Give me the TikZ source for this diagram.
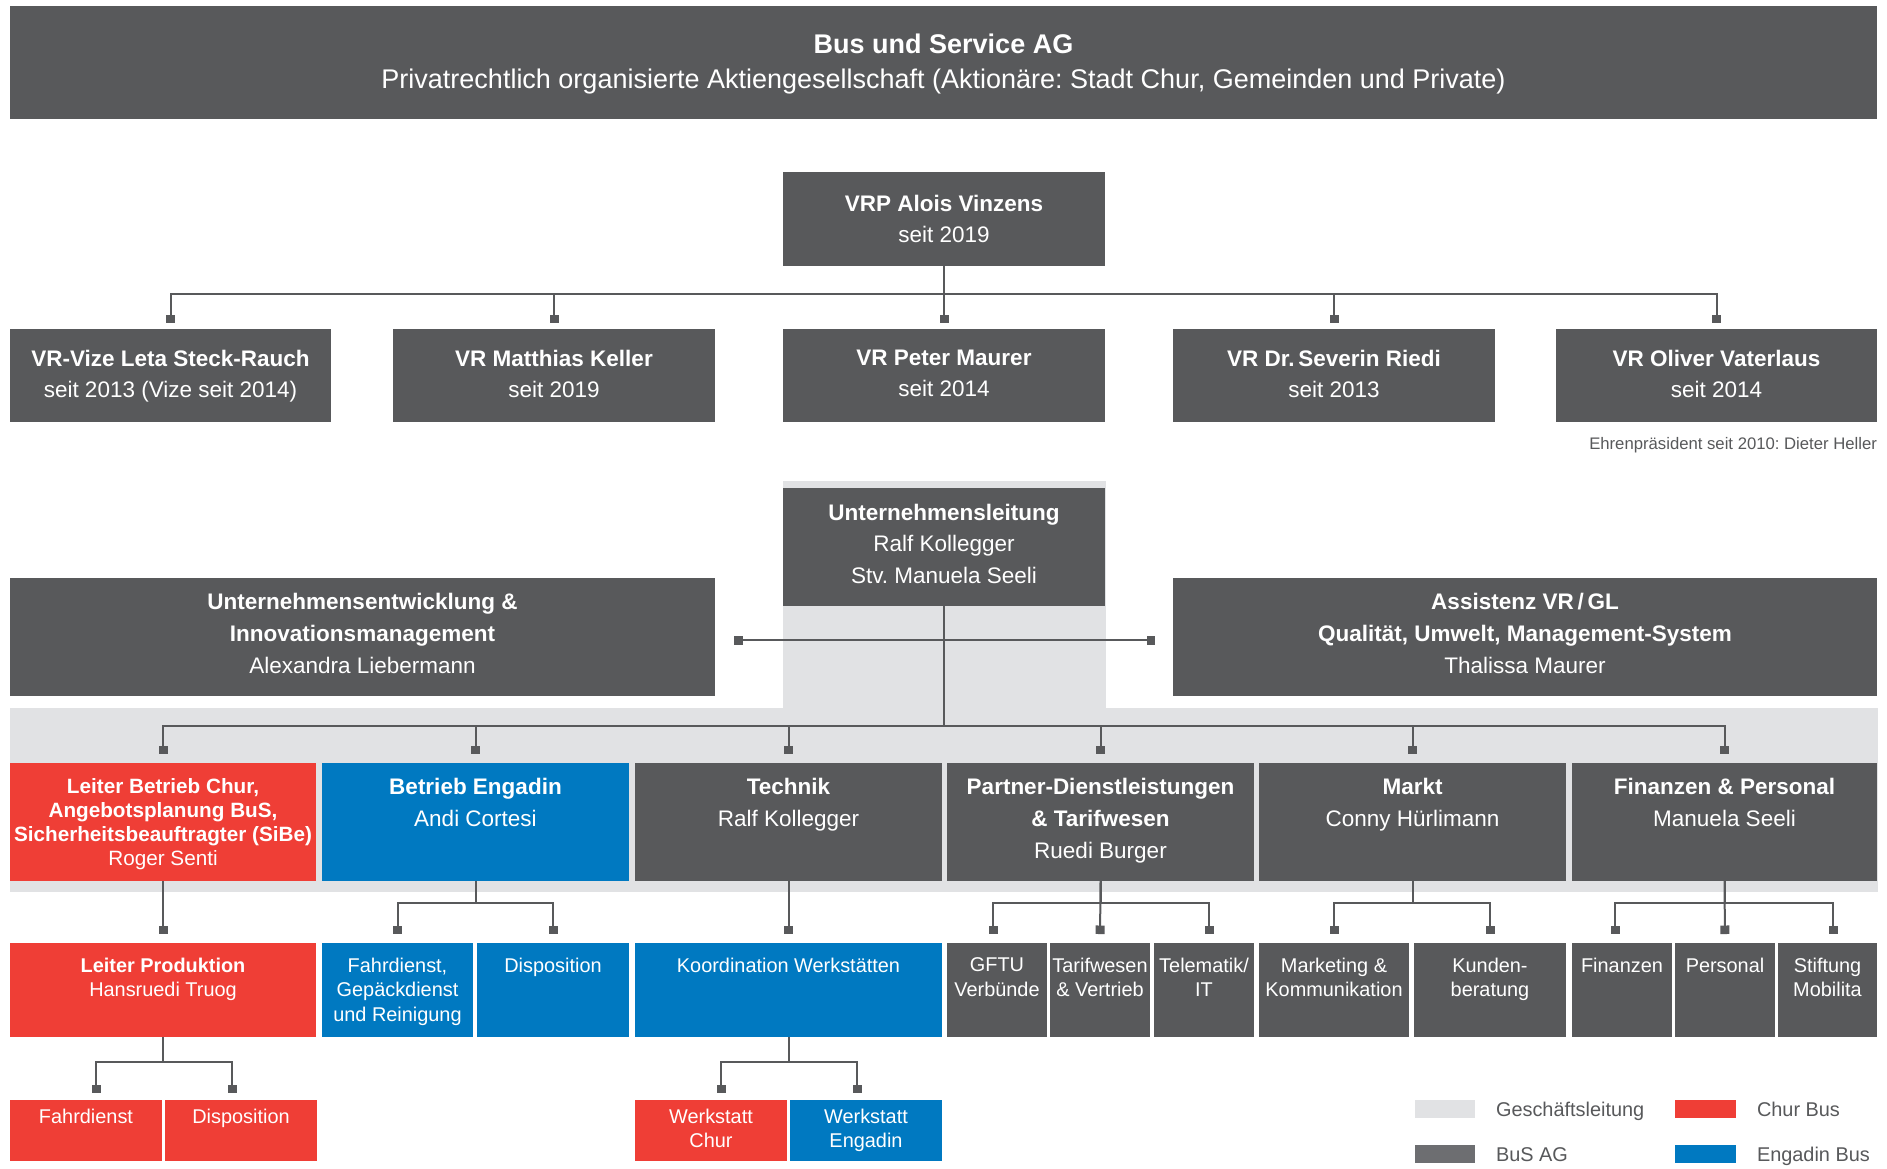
\documentclass[tikz,border=0pt]{standalone}
\usepackage{fontspec}
\setmainfont{Liberation Sans}
\usetikzlibrary{arrows.meta}
\frenchspacing
\definecolor{dkgray}{HTML}{58595B}
\definecolor{ltgray}{HTML}{E1E2E4}
\definecolor{cred}{HTML}{EF3E36}
\definecolor{cblue}{HTML}{0079C1}
\definecolor{legray}{HTML}{6D6E71}
\newcommand\setfs[2]{\fontsize{#1}{#2}\selectfont}
\newcommand\mkbox[6]{\node[boxbase,#6,minimum width={(#4)-(#2)},minimum height={(#5)-(#3)}] (#1) at ({((#2)+(#4))/2},{((#3)+(#5))/2}) {};}
\tikzset{
  boxbase/.style={rectangle,inner sep=0pt,outer sep=0pt,draw=none},
  dk/.style={fill=dkgray},
  rd/.style={fill=cred},
  bl/.style={fill=cblue},
  txt/.style={inner sep=0pt,outer sep=0pt,anchor=north,align=center,text=white,
    execute at begin node={\vphantom{(}}},
  hd/.style={txt,font=\setfs{22.5}{31.5}},
  lvthree/.style={txt,font=\setfs{19.9}{24.3}},
  lvfour/.style={txt,font=\setfs{19.9}{23.4}},
  legtxt/.style={inner sep=0pt,outer sep=0pt,anchor=base west,text=dkgray,font=\setfs{19.9}{24}},
  conn/.style={draw=dkgray,line width=2pt},
  drop/.style={conn,-{Square[length=8.5pt,width=9pt]}},
}
\begin{document}
\begin{tikzpicture}[x=1pt,y=-1pt]
\useasboundingbox (0,0) rectangle (1887,1168);
\fill[white] (0,0) rectangle (1887,1168);
% light grey areas (Geschaeftsleitung)
\fill[ltgray] (783,481) rectangle (1106,708);
\fill[ltgray] (10,708) rectangle (1878,892);
% banner
\mkbox{banner}{10}{6}{1877}{119}{dk}
\node[txt,font=\setfs{27}{35}] (tbanner) at (banner.north |- 0,33.7)
  {{\bfseries Bus und Service AG}\\Privatrechtlich organisierte Aktiengesellschaft (Aktionäre: Stadt Chur, Gemeinden und Private)};
% VRP
\mkbox{vrp}{783}{172}{1105}{266}{dk}
\node[hd] (tvrp) at (vrp.north |- 0,195) {{\bfseries VRP Alois Vinzens}\\seit 2019};
% VR row
\mkbox{vra}{10}{329}{331}{422}{dk}
\mkbox{vrb}{393}{329}{715}{422}{dk}
\mkbox{vrc}{783}{329}{1105}{422}{dk}
\mkbox{vrd}{1173}{329}{1495}{422}{dk}
\mkbox{vre}{1556}{329}{1877}{422}{dk}
\node[hd,font=\setfs{22.5}{31}] (tvra) at (vra.north |- 0,350.5) {{\bfseries VR-Vize Leta Steck-Rauch}\\seit 2013 (Vize seit 2014)};
\node[hd,font=\setfs{22.5}{31}] (tvrb) at (vrb.north |- 0,350.5) {{\bfseries VR Matthias Keller}\\seit 2019};
\node[hd,font=\setfs{22.5}{31}] (tvrc) at (vrc.north |- 0,350.5) {{\bfseries VR Peter Maurer}\\seit 2014};
\node[hd,font=\setfs{22.5}{31}] (tvrd) at (vrd.north |- 0,350.5) {{\bfseries VR Dr.\,Severin Riedi}\\seit 2013};
\node[hd,font=\setfs{22.5}{31}] (tvre) at (vre.north |- 0,350.5) {{\bfseries VR Oliver Vaterlaus}\\seit 2014};
\node[inner sep=0pt,outer sep=0pt,anchor=base east,text=dkgray,font=\setfs{16.7}{20}] (ehren) at (vre.south east |- 0,449) {Ehrenpräsident seit 2010: Dieter Heller};
% Unternehmensleitung + side boxes
\mkbox{ul}{783}{488}{1105}{606}{dk}
\node[hd] (tul) at (ul.north |- 0,504) {{\bfseries Unternehmensleitung}\\Ralf Kollegger\\Stv.\ Manuela Seeli};
\mkbox{sl}{10}{578}{715}{696}{dk}
\mkbox{sr}{1173}{578}{1877}{696}{dk}
\node[hd,font=\setfs{22.5}{32}] (tsl) at (sl.north |- 0,593) {{\bfseries Unternehmensentwicklung \&}\\{\bfseries Innovationsmanagement}\\Alexandra Liebermann};
\node[hd,font=\setfs{22.5}{32}] (tsr) at (sr.north |- 0,593) {{\bfseries Assistenz VR\,/\,GL}\\{\bfseries Qualität, Umwelt, Management-System}\\Thalissa Maurer};
% row 2
\mkbox{lbc}{10}{763}{316}{881}{rd}
\mkbox{be}{322}{763}{629}{881}{bl}
\mkbox{tech}{635}{763}{942}{881}{dk}
\mkbox{pd}{947}{763}{1254}{881}{dk}
\mkbox{markt}{1259}{763}{1566}{881}{dk}
\mkbox{fp}{1572}{763}{1877}{881}{dk}
\node[txt,font=\setfs{20.7}{24}] (tlbc) at (lbc.north |- 0,778.3) {{\bfseries Leiter Betrieb Chur,}\\{\bfseries Angebotsplanung BuS,}\\{\bfseries Sicherheitsbeauftragter (SiBe)}\\Roger Senti};
\node[hd,font=\setfs{22.5}{32}] (tbe) at (be.north |- 0,778.5) {{\bfseries Betrieb Engadin}\\Andi Cortesi};
\node[hd,font=\setfs{22.5}{32}] (ttech) at (tech.north |- 0,778.5) {{\bfseries Technik}\\Ralf Kollegger};
\node[hd,font=\setfs{22.5}{32}] (tpd) at (pd.north |- 0,778.5) {{\bfseries Partner-Dienstleistungen}\\{\bfseries \& Tarifwesen}\\Ruedi Burger};
\node[hd,font=\setfs{22.5}{32}] (tmarkt) at (markt.north |- 0,778.5) {{\bfseries Markt}\\Conny Hürlimann};
\node[hd,font=\setfs{22.5}{32}] (tfp) at (fp.north |- 0,778.5) {{\bfseries Finanzen \& Personal}\\Manuela Seeli};
% row 3
\mkbox{lp}{10}{943}{316}{1037}{rd}
\mkbox{fg}{322}{943}{473}{1037}{bl}
\mkbox{dsa}{477}{943}{629}{1037}{bl}
\mkbox{kw}{635}{943}{942}{1037}{bl}
\mkbox{gftu}{947}{943}{1047}{1037}{dk}
\mkbox{tv}{1050}{943}{1150}{1037}{dk}
\mkbox{tel}{1154}{943}{1254}{1037}{dk}
\mkbox{mk}{1259}{943}{1409}{1037}{dk}
\mkbox{kb}{1414}{943}{1566}{1037}{dk}
\mkbox{fin}{1572}{943}{1672}{1037}{dk}
\mkbox{pers}{1675}{943}{1775}{1037}{dk}
\mkbox{stift}{1778}{943}{1877}{1037}{dk}
\node[lvthree] (tlp) at (lp.north |- 0,958) {{\bfseries Leiter Produktion}\\Hansruedi Truog};
\node[lvthree] (tfg) at (fg.north |- 0,958) {Fahrdienst,\\Gepäckdienst\\und Reinigung};
\node[lvthree] (tdsa) at (dsa.north |- 0,958) {Disposition};
\node[lvthree] (tkw) at (kw.north |- 0,958) {Koordination Werkstätten};
\node[lvthree] (tgftu) at (gftu.north |- 0,958) {GFTU\\Verbünde};
\node[lvthree] (ttv) at (tv.north |- 0,958) {Tarifwesen\\\& Vertrieb};
\node[lvthree] (ttel) at (tel.north |- 0,958) {Telematik/\\IT};
\node[lvthree] (tmk) at (mk.north |- 0,958) {Marketing \&\\Kommunikation};
\node[lvthree] (tkb) at (kb.north |- 0,958) {Kunden-\\beratung};
\node[lvthree] (tfin) at (fin.north |- 0,958) {Finanzen};
\node[lvthree] (tpers) at (pers.north |- 0,958) {Personal};
\node[lvthree] (tstift) at (stift.north |- 0,958) {Stiftung\\Mobilita};
% row 4
\mkbox{fd}{10}{1100}{162}{1161}{rd}
\mkbox{dsb}{165}{1100}{317}{1161}{rd}
\mkbox{wc}{635}{1100}{787}{1161}{rd}
\mkbox{we}{790}{1100}{942}{1161}{bl}
\node[lvfour] (tfd) at (fd.north |- 0,1109.5) {Fahrdienst};
\node[lvfour] (tdsb) at (dsb.north |- 0,1109.5) {Disposition};
\node[lvfour] (twc) at (wc.north |- 0,1109.5) {Werkstatt\\Chur};
\node[lvfour] (twe) at (we.north |- 0,1109.5) {Werkstatt\\Engadin};
% legend
\mkbox{lga}{1415}{1100}{1475}{1118}{fill=ltgray}
\mkbox{lgb}{1675}{1100}{1736}{1118}{rd}
\mkbox{lgc}{1415}{1145}{1475}{1163}{fill=legray}
\mkbox{lgd}{1675}{1145}{1736}{1163}{bl}
\node[legtxt] (tlga) at (1496,1116) {Geschäftsleitung};
\node[legtxt] (tlgb) at (1757,1116) {Chur Bus};
\node[legtxt] (tlgc) at (1496,1161.5) {BuS AG};
\node[legtxt] (tlgd) at (1757,1161.5) {Engadin Bus};
% ---------- connectors ----------
\coordinate (bara) at (0,294);
\coordinate (barb) at (0,640);
\coordinate (barc) at (0,726);
\coordinate (bard) at (0,903);
\coordinate (bare) at (0,1062);
% VRP -> VR
\foreach \c in {vra,vrb,vrc,vrd,vre}
  \draw[drop,shorten >=6pt] (vrp.south) -- (vrp.south |- bara) -| (\c.north);
% UL -> side boxes
\draw[drop,shorten >=19pt] (ul.south) -- (ul.south |- barb) -- (sl.east |- barb);
\draw[drop,shorten >=18pt] (ul.south |- barb) -- (sr.west |- barb);
% UL -> row 2
\foreach \c in {lbc,be,tech,pd,markt,fp}
  \draw[drop,shorten >=9pt] (ul.south) -- (ul.south |- barc) -| (\c.north);
% row 2 -> row 3
\draw[drop,shorten >=9pt] (lbc.south) -- (lp.north);
\foreach \c in {fg,dsa}
  \draw[drop,shorten >=9pt] (be.south) -- (be.south |- bard) -| (\c.north);
\draw[drop,shorten >=9pt] (tech.south) -- (kw.north);
\coordinate (xpa) at (993,0);
\coordinate (xpb) at (1100,0);
\coordinate (xpc) at (1209,0);
\draw[drop,shorten >=9pt] (pd.south) -- (pd.south |- bard) -| (gftu.north -| xpa);
\draw[drop,shorten >=9pt] (pd.south) -- (tv.north -| xpb);
\draw[drop,shorten >=9pt] (pd.south) -- (pd.south |- bard) -| (tel.north -| xpc);
\foreach \c in {mk,kb}
  \draw[drop,shorten >=9pt] (markt.south) -- (markt.south |- bard) -| (\c.north);
\coordinate (xfa) at (1615,0);
\coordinate (xfc) at (1833,0);
\draw[drop,shorten >=9pt] (fp.south) -- (fp.south |- bard) -| (fin.north -| xfa);
\draw[drop,shorten >=9pt] (fp.south) -- (pers.north);
\draw[drop,shorten >=9pt] (fp.south) -- (fp.south |- bard) -| (stift.north -| xfc);
% row 3 -> row 4
\coordinate (xla) at (96,0);
\coordinate (xlb) at (232,0);
\coordinate (xka) at (721,0);
\coordinate (xkb) at (857,0);
\draw[drop,shorten >=7pt] (lp.south) -- (lp.south |- bare) -| (fd.north -| xla);
\draw[drop,shorten >=7pt] (lp.south) -- (lp.south |- bare) -| (dsb.north -| xlb);
\draw[drop,shorten >=7pt] (kw.south) -- (kw.south |- bare) -| (wc.north -| xka);
\draw[drop,shorten >=7pt] (kw.south) -- (kw.south |- bare) -| (we.north -| xkb);
\end{tikzpicture}
\end{document}
